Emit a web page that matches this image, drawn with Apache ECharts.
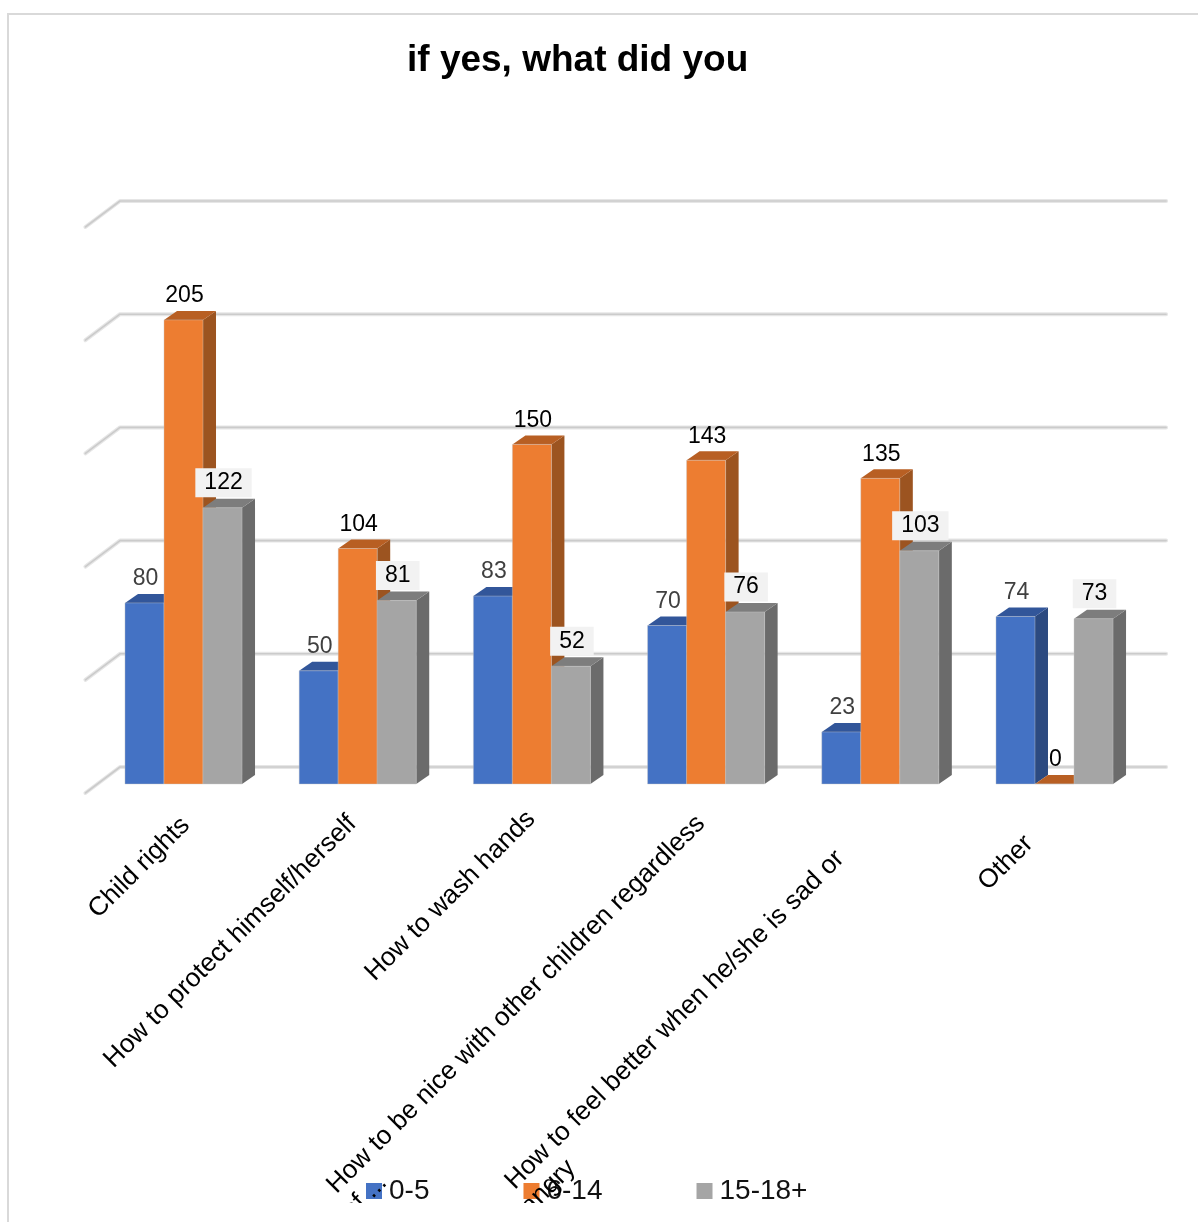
<!DOCTYPE html>
<html>
<head>
<meta charset="utf-8">
<title>if yes, what did you</title>
<style>
  html, body { margin: 0; padding: 0; background: #fff; overflow: hidden; }
  #frame { position: absolute; left: 7px; top: 13px; width: 1191px; height: 1209px;
           border-left: 2px solid #d9d9d9; border-top: 2px solid #d9d9d9; box-sizing: border-box; }
  #chart { position: absolute; left: 0; top: 0; width: 1198px; height: 1203px; }
</style>
<script src="https://cdn.jsdelivr.net/npm/echarts@6/dist/echarts.min.js"></script>
</head>
<body>
<div id="frame"></div>
<div id="chart"></div>
<script>
const categories = [
  'Child rights',
  'How to protect himself/herself',
  'How to wash hands',
  'How to be nice with other children regardless\nof ...',
  'How to feel better when he/she is sad or\nangry',
  'Other'
];
const ages0to5 = [80, 50, 83, 70, 23, 74];
const ages6to14 = [205, 104, 150, 143, 135, 0];
const ages15to18 = [122, 81, 52, 76, 103, 73];
const valueTicks = [0, 50, 100, 150, 200, 250];

// Layout of the 3D look, in pixels
const FONT = '"Liberation Sans", Arial, sans-serif';
const BAR_DEPTH_X = 13, BAR_DEPTH_Y = 9;
const WALL_DX = 23.6, WALL_DY = 17, WALL_RIGHT = 24.5, FLOOR_DX = 11, FLOOR_DY = 9;
const BAR_SHARE = 0.224;
const labelEndInset = [16.4, 20.5, 14, 20.5, 70, 49];
const labelTopInset = [6.4, 0, 0, 0, 0, 0];
const labelStartInset = [0, 0, 0, 7, 7, 0];

function wallLine(params, api) {
  const cs = params.coordSys;
  const y = api.coord([0, api.value(0)])[1];
  const pts = [
    [cs.x - FLOOR_DX, y + FLOOR_DY],
    [cs.x + WALL_DX, y - WALL_DY],
    [cs.x + cs.width + WALL_RIGHT, y - WALL_DY]
  ];
  const line = (stroke, width) => ({
    type: 'polyline', shape: { points: pts },
    style: { fill: null, stroke, lineWidth: width, lineCap: 'round', lineJoin: 'round' }
  });
  return { type: 'group', children: [line('#e6e6e6', 4), line('#cbcbcb', 1.6)] };
}

function barSeries(name, values, slot, colors, textColor, boxed) {
  return {
    name, type: 'custom', coordinateSystem: 'cartesian2d',
    itemStyle: { color: colors.front },
    data: values.map((v, i) => [i, v]),
    clip: false,
    encode: { x: 0, y: 1 },
    renderItem(params, api) {
      const width = api.size([1, 0])[0] * BAR_SHARE;
      const center = api.coord([api.value(0), 0])[0];
      const base = api.coord([0, 0])[1];
      const top = api.coord([0, api.value(1)])[1];
      const x0 = center + (slot - 1.5) * width;
      const x1 = x0 + width;
      const dx = BAR_DEPTH_X, dy = BAR_DEPTH_Y;
      const poly = (points, fill) => ({ type: 'polygon', shape: { points }, style: { fill } });
      const label = {
        type: 'text', z2: 100,
        x: (x0 + x1) / 2 + 1, y: top - (boxed ? 25 : 24),
        style: {
          text: String(api.value(1)), font: '23px ' + FONT, fill: textColor,
          align: 'center', verticalAlign: 'middle',
          backgroundColor: boxed ? '#f2f2f2' : null,
          padding: boxed ? [4, 9, 2, 9] : 0
        }
      };
      return {
        type: 'group',
        children: [
          poly([[x1, base], [x1 + dx, base - dy], [x1 + dx, top - dy], [x1, top]], colors.side),
          poly([[x0, top], [x0 + dx, top - dy], [x1 + dx, top - dy], [x1, top]], colors.top),
          {
            type: 'rect', shape: { x: x0, y: top, width, height: base - top },
            style: { fill: colors.front, stroke: 'rgba(200,200,200,0.4)', lineWidth: 1 }
          },
          label
        ]
      };
    }
  };
}

const chart = echarts.init(document.getElementById('chart'), null, { renderer: 'canvas' });

// One rich style per category, so each rotated label can sit at its own place;
// wrapped second lines start a little before the first line.
const labelRich = {
  wrapped: { fontFamily: FONT, fontSize: 26.2, color: '#000', align: 'left', padding: [3, 0, 0, 0] }
};
labelEndInset.forEach((inset, i) => {
  labelRich['line' + i] = {
    fontFamily: FONT, fontSize: 26.2, color: '#000', align: 'left',
    padding: [labelTopInset[i], inset, 0, labelStartInset[i]]
  };
});

chart.setOption({
  animation: false,
  title: {
    text: 'if yes, what did you', left: 402, top: 37,
    textStyle: { fontFamily: FONT, fontSize: 37, fontWeight: 'bold', color: '#000' }
  },
  legend: {
    z: 1, left: 366, top: 1177, padding: 0, icon: 'rect', itemWidth: 16, itemHeight: 16, itemGap: 94,
    data: ['0-5', '6-14', '15-18+'],
    textStyle: { fontFamily: FONT, fontSize: 28, color: '#111', padding: [0, 0, 3, 2] }
  },
  grid: { left: 96.4, width: 1045.2, top: 218, height: 566, containLabel: false, outerBoundsMode: 'none' },
  xAxis: {
    type: 'category', data: categories, z: 6,
    axisLine: { show: false }, axisTick: { show: false },
    axisLabel: {
      interval: 0, rotate: 45, margin: 12, hideOverlap: false, verticalAlign: 'top',
      fontFamily: FONT, fontSize: 26.2, color: '#000',
      formatter(value, index) {
        const lines = value.split('\n');
        return '{line' + index + '|' + lines[0] + '}' +
          (lines[1] ? '\n{wrapped|' + lines[1] + '}' : '');
      },
      rich: labelRich
    }
  },
  yAxis: {
    type: 'value', min: 0, max: 250, interval: 50,
    axisLine: { show: false }, axisTick: { show: false },
    axisLabel: { show: false }, splitLine: { show: false }
  },
  series: [
    {
      type: 'custom', name: 'wall', coordinateSystem: 'cartesian2d', silent: true, clip: false,
      data: valueTicks.map(v => [v]), encode: { y: 0 }, renderItem: wallLine
    },
    barSeries('0-5', ages0to5, 0, { front: '#4472c4', top: '#32569a', side: '#2c4a80' }, '#404040', false),
    barSeries('6-14', ages6to14, 1, { front: '#ed7d31', top: '#b85f23', side: '#9c5420' }, '#000', false),
    barSeries('15-18+', ages15to18, 2, { front: '#a5a5a5', top: '#7d7d7d', side: '#6b6b6b' }, '#000', true)
  ]
});
</script>
</body>
</html>
